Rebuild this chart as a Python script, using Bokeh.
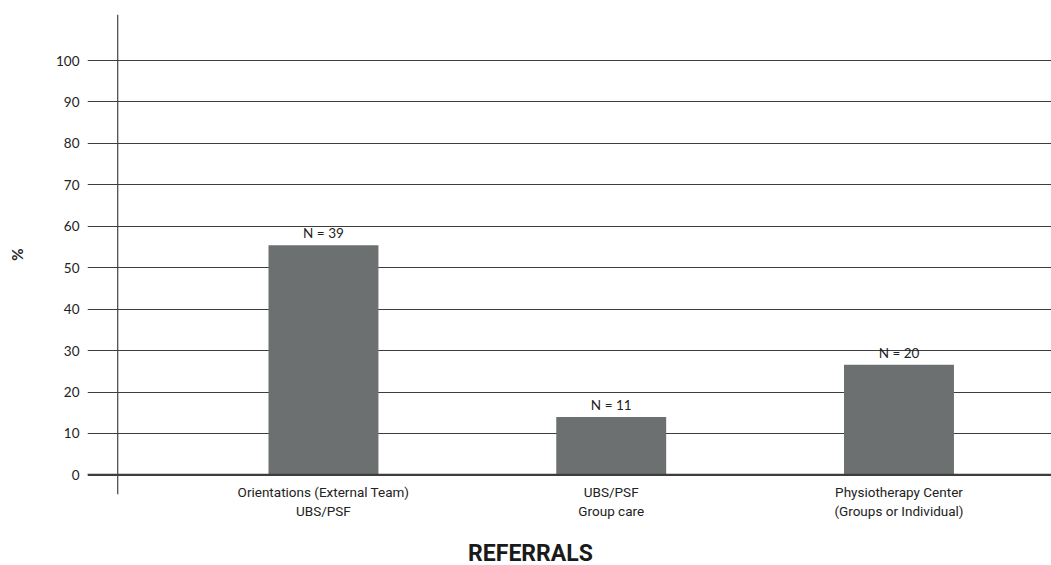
from bokeh.plotting import figure
from bokeh.models import ColumnDataSource, Range1d, FixedTicker, Span, Div
from bokeh.layouts import column
from bokeh.embed import file_html
from bokeh.resources import INLINE
from bokeh.core.properties import value

categories = ["Orientations (External Team)\nUBS/PSF", "UBS/PSF\nGroup care", "Physiotherapy Center\n(Groups or Individual)"]
percent = [55.4, 14.0, 26.6]
n_labels = ["N = 39", "N = 11", "N = 20"]
y_ticks = [0, 10, 20, 30, 40, 50, 60, 70, 80, 90, 100]

idx = list(range(len(categories)))
src = ColumnDataSource(dict(x=idx, top=percent, lab=n_labels))

p = figure(width=1051, height=521, output_backend="svg", toolbar_location=None,
           x_range=Range1d(-0.82, 2.53), y_range=Range1d(-4.72, 111.1),
           min_border_left=87, min_border_right=0, min_border_top=14, min_border_bottom=0)
p.outline_line_color = None
p.background_fill_color = "white"
p.border_fill_color = "white"

p.vbar(x="x", top="top", width=0.382, bottom=0, source=src, fill_color="#6c7070", line_color=None)
p.text(x="x", y="top", text="lab", source=src, text_align="center", text_baseline="bottom",
       y_offset=-4, text_font=value("Lato"), text_font_size="13.5px", text_color="#222222")

# axes
p.xgrid.visible = False
p.ygrid.ticker = FixedTicker(ticks=y_ticks)
p.ygrid.grid_line_color = "#3d3d3d"
p.ygrid.grid_line_width = 1.2
p.yaxis.ticker = FixedTicker(ticks=y_ticks)
p.yaxis.axis_line_color = None
p.yaxis.major_tick_line_color = None
p.yaxis.minor_tick_line_color = None
p.yaxis.major_label_standoff = 2
p.yaxis.major_label_text_font = "Lato"
p.yaxis.major_label_text_font_size = "13.5px"
p.yaxis.major_label_text_color = "#222222"
p.yaxis.axis_label = "%"
p.yaxis.axis_label_text_font = "Lato"
p.yaxis.axis_label_text_font_style = "bold"
p.yaxis.axis_label_text_font_size = "15px"
p.yaxis.axis_label_text_color = "#222222"
p.yaxis.axis_label_standoff = 27

p.xaxis.ticker = FixedTicker(ticks=idx)
p.xaxis.major_label_overrides = {i: c for i, c in zip(idx, categories)}
p.xaxis.axis_line_color = None
p.xaxis.major_tick_line_color = None
p.xaxis.minor_tick_line_color = None
p.xaxis.major_tick_out = 0
p.xaxis.major_label_standoff = -11
p.xaxis.major_label_text_font = "Roboto"
p.xaxis.major_label_text_font_size = "13.5px"
p.xaxis.major_label_text_color = "#222222"

zero = Span(location=0, dimension="width", line_color="#3d3d3d", line_width=2.2)
vline = Span(location=-0.715, dimension="height", line_color="#444444", line_width=1.2)
p.add_layout(zero)
p.add_layout(vline)

title = Div(text="REFERRALS", width=1051, height=44,
            styles={"text-align": "center", "font-family": "Roboto, sans-serif",
                    "font-weight": "bold", "font-size": "23px", "color": "#1a1a1a",
                    "width": "1051px", "padding-top": "15px", "line-height": "26px",
                    "box-sizing": "border-box"})

layout = column(p, title, spacing=0)
open("out.html", "w").write(file_html(layout, INLINE))
